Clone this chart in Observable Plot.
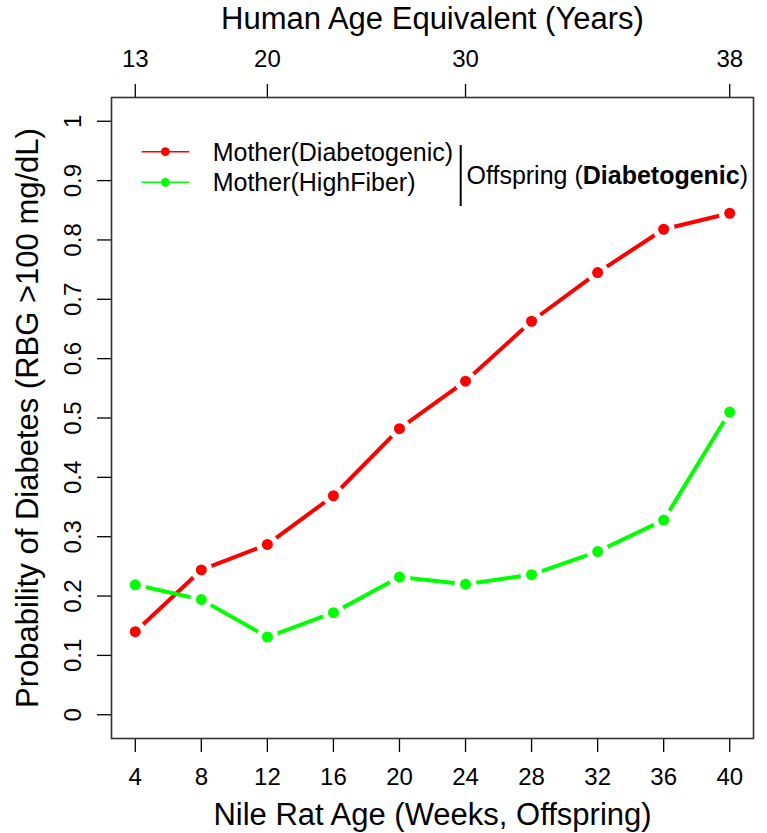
<!DOCTYPE html>
<html>
<head>
<meta charset="utf-8">
<script src="https://cdn.jsdelivr.net/npm/d3@7"></script>
<script src="https://cdn.jsdelivr.net/npm/@observablehq/plot@0.6"></script>
<style>
  body { margin: 0; background: #fff; }
  #chart svg { display: block; }
</style>
</head>
<body>
<div id="chart"></div>
<script>
// ---- data ----
const weeks = [4, 8, 12, 16, 20, 24, 28, 32, 36, 40];
const motherDiabetogenic = [0.140, 0.244, 0.287, 0.369, 0.482, 0.562, 0.663, 0.745, 0.818, 0.845];
const motherHighFiber    = [0.219, 0.194, 0.131, 0.172, 0.232, 0.220, 0.236, 0.275, 0.328, 0.510];
const seriesNames  = ["Mother(Diabetogenic)", "Mother(HighFiber)"];
const seriesColors = ["#FF0000", "#00FF00"];
const yTicks = [0, 0.1, 0.2, 0.3, 0.4, 0.5, 0.6, 0.7, 0.8, 0.9, 1];
const humanWeeks = [4, 12, 24, 40];
const humanAges  = [13, 20, 30, 38];
const xTitle = "Nile Rat Age (Weeks, Offspring)";
const topTitle = "Human Age Equivalent (Years)";
const yTitle = "Probability of Diabetes (RBG >100 mg/dL)";

const FONT = "'Liberation Sans', Arial, Helvetica, sans-serif";
const M = {left: 111, right: 14, top: 97, bottom: 95};

const rows = weeks.flatMap((w, i) => [
  {week: w, p: motherDiabetogenic[i], s: seriesNames[0]},
  {week: w, p: motherHighFiber[i], s: seriesNames[1]}
]);
const ageByWeek = new Map(humanWeeks.map((w, i) => [w, humanAges[i]]));

// legend drawn relative to the frame
function legendMark() {
  const g = d3.create("svg:g").attr("font-family", FONT).attr("text-anchor", "start");
  const left = M.left, top = M.top;
  seriesNames.forEach((name, i) => {
    const y = top + 54.7 + i * 30.6;
    g.append("line")
      .attr("x1", left + 30.7).attr("x2", left + 78.3)
      .attr("y1", y).attr("y2", y)
      .attr("stroke", seriesColors[i]).attr("stroke-width", 1.4);
    g.append("circle")
      .attr("cx", left + 54.3).attr("cy", y).attr("r", 4.4)
      .attr("fill", seriesColors[i]);
    g.append("text")
      .attr("x", left + 101.7).attr("y", y + 9)
      .attr("text-anchor", "start")
      .attr("font-size", 25).attr("fill", "#000")
      .text(name);
  });
  g.append("line")
    .attr("x1", 460.7).attr("x2", 460.7)
    .attr("y1", 145).attr("y2", 206)
    .attr("stroke", "#000").attr("stroke-width", 2);
  const t = g.append("text")
    .attr("x", 466.5).attr("y", 184)
    .attr("text-anchor", "start")
    .attr("font-size", 25).attr("fill", "#000");
  t.append("tspan").text("Offspring (");
  t.append("tspan").attr("font-weight", "bold").text("Diabetogenic");
  t.append("tspan").text(")");
  return g.node();
}

const chart = Plot.plot({
  width: 767,
  height: 833,
  marginLeft: M.left,
  marginRight: M.right,
  marginTop: M.top,
  marginBottom: M.bottom,
  style: {fontFamily: FONT, background: "#fff", color: "#000"},
  x: {domain: [2.56, 41.44]},
  y: {domain: [-0.04, 1.04]},
  color: {domain: seriesNames, range: seriesColors},
  marks: [
    Plot.axisX(weeks, {anchor: "bottom", tickSize: 14, tickPadding: 15, fontSize: 24, label: null, strokeWidth: 1.3}),
    Plot.axisX(humanWeeks, {anchor: "top", tickSize: 14, tickPadding: 17, fontSize: 24, label: null, strokeWidth: 1.3,
      tickFormat: d => String(ageByWeek.get(d))}),
    Plot.axisY(yTicks, {anchor: "left", tickSize: 14, tickFormat: () => "", label: null, strokeWidth: 1.3}),
    Plot.text(yTicks, {y: d => d, text: d => String(d), frameAnchor: "left", dx: -31, rotate: -90,
      lineAnchor: "bottom", textAnchor: "middle", fontSize: 24, fill: "#000"}),
    Plot.text([xTitle], {frameAnchor: "bottom", dy: 86, lineAnchor: "bottom", textAnchor: "middle", fontSize: 31, fill: "#000",
      letterSpacing: 1.3}),
    Plot.text([topTitle], {frameAnchor: "top", dy: -68.7, lineAnchor: "bottom", textAnchor: "middle", fontSize: 31, fill: "#000",
      letterSpacing: 1.3}),
    Plot.text([yTitle], {frameAnchor: "left", dx: -74, rotate: -90, lineAnchor: "bottom", textAnchor: "middle", fontSize: 31, fill: "#000",
      letterSpacing: 0.9}),
    Plot.line(rows, {x: "week", y: "p", z: "s", stroke: "s", strokeWidth: 4, strokeLinecap: "round"}),
    Plot.dot(rows, {x: "week", y: "p", r: 11, fill: "#fff", stroke: null}),
    Plot.dot(rows, {x: "week", y: "p", r: 5.5, fill: "s", stroke: null}),
    Plot.frame({stroke: "#333", strokeWidth: 1.6}),
    legendMark
  ]
});
document.getElementById("chart").appendChild(chart);
</script>
</body>
</html>
